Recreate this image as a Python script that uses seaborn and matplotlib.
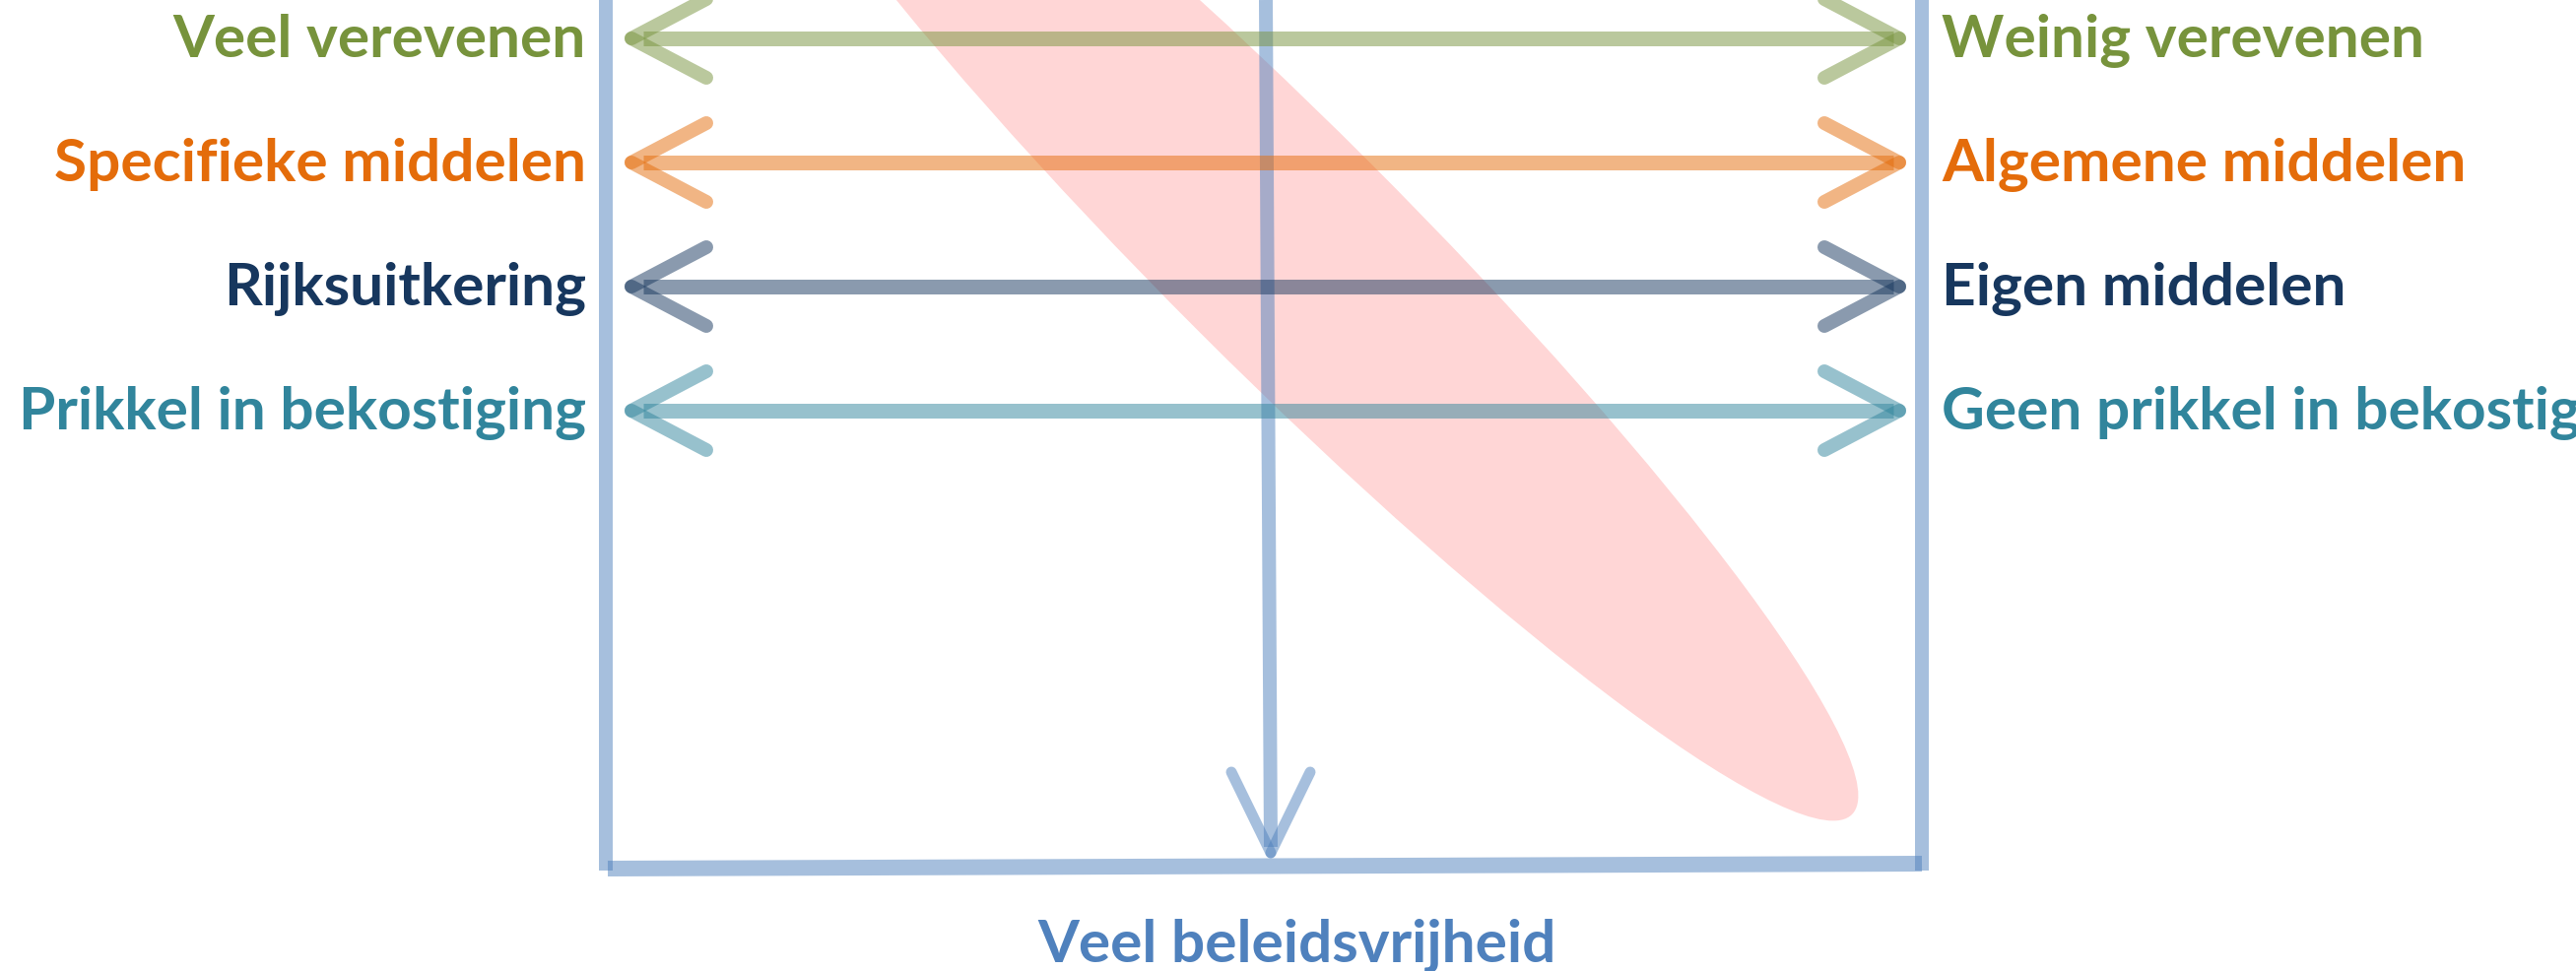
import numpy as np
import pandas as pd
import matplotlib
matplotlib.use("Agg")
import matplotlib.pyplot as plt
import seaborn as sns
from matplotlib.patches import Ellipse

# dimensions of the diagram: left pole / right pole
LEFT_LABELS = [
    "Veel verevenen",
    "Specifieke middelen",
    "Rijksuitkering",
    "Prikkel in bekostiging"
]
RIGHT_LABELS = [
    "Weinig verevenen",
    "Algemene middelen",
    "Eigen middelen",
    "Geen prikkel in bekostiging"
]
BOTTOM_LABEL = "Veel beleidsvrijheid"
ROWS = [0, 1, 2, 3]

COLORS = ["#77933C", "#E46C0A", "#17375E", "#31859C"]
FRAME_COLOR = "#4F81BD"
ZONE_COLOR = "#FFD6D6"

# layout in pixels
W, H = 2615, 986
FRAME_L, FRAME_R, FRAME_B = 615, 1951, 880
ROW0, ROW_STEP = 39, 126
TIP_L, TIP_R = 641, 1928
HEAD_LEN, HEAD_HALF = 76, 40
PX = 0.72  # px -> pt at dpi 100
FS = 43.5

sns.set_theme(style="white")
plt.rcParams["font.family"] = ["Lato", "DejaVu Sans"]

fig = plt.figure(figsize=(W / 100, H / 100), dpi=100)
ax = fig.add_axes([0, 0, 1, 1])

row_y = [ROW0 + ROW_STEP * r for r in ROWS]

# pink zone
ax.add_patch(Ellipse((1303, 250), width=1632, height=244, angle=45,
                     facecolor=ZONE_COLOR, edgecolor="none", zorder=1))

# frame
ax.plot([FRAME_L, FRAME_L], [0, FRAME_B + 4], color=FRAME_COLOR, alpha=0.5,
        lw=14 * PX, solid_capstyle="butt", zorder=2)
ax.plot([FRAME_R, FRAME_R], [0, FRAME_B + 4], color=FRAME_COLOR, alpha=0.5,
        lw=14 * PX, solid_capstyle="butt", zorder=2)
ax.plot([FRAME_L + 2, FRAME_R], [FRAME_B + 2, FRAME_B - 3], color=FRAME_COLOR,
        alpha=0.5, lw=16 * PX, solid_capstyle="butt", zorder=2)

# vertical arrow down the middle
mid_top, mid_bot = 1285, 1290
tip_y = 866
ax.plot([mid_top, mid_bot], [0, tip_y - 6], color=FRAME_COLOR, alpha=0.5,
        lw=14 * PX, solid_capstyle="butt", zorder=3)
for s in (-1, 1):
    ax.plot([mid_bot + s * HEAD_HALF, mid_bot], [tip_y - HEAD_LEN - 6, tip_y],
            color=FRAME_COLOR, alpha=0.5, lw=11 * PX,
            solid_capstyle="round", zorder=3)

# horizontal double arrows
df = pd.DataFrame({
    "dim": np.repeat(LEFT_LABELS, 2),
    "x": [TIP_L + 12, TIP_R - 6] * len(ROWS),
    "y": np.repeat(row_y, 2),
})
sns.lineplot(data=df, x="x", y="y", hue="dim", hue_order=LEFT_LABELS,
             palette=COLORS, lw=15 * PX, alpha=0.5, legend=False,
             estimator=None, sort=False, solid_capstyle="butt", zorder=4, ax=ax)

for y, c in zip(row_y, COLORS):
    for s in (-1, 1):
        ax.plot([TIP_L + HEAD_LEN, TIP_L], [y + s * HEAD_HALF, y], color=c,
                alpha=0.5, lw=14 * PX, solid_capstyle="round", zorder=4)
        ax.plot([TIP_R - HEAD_LEN, TIP_R], [y + s * HEAD_HALF, y], color=c,
                alpha=0.5, lw=14 * PX, solid_capstyle="round", zorder=4)

ax.set_xlim(0, W)
ax.set_ylim(H, 0)
ax.axis("off")

# labels
for y, c, lt, rt in zip(row_y, COLORS, LEFT_LABELS, RIGHT_LABELS):
    ax.text(595, y + 19, lt, color=c, fontsize=FS, fontweight="bold",
            ha="right", va="baseline")
    ax.text(1971, y + 19, rt, color=c, fontsize=FS, fontweight="bold",
            ha="left", va="baseline")

ax.text(1317, 977, BOTTOM_LABEL, color=FRAME_COLOR, fontsize=FS,
        fontweight="bold", ha="center", va="baseline")

fig.savefig("out.png", dpi=100)
